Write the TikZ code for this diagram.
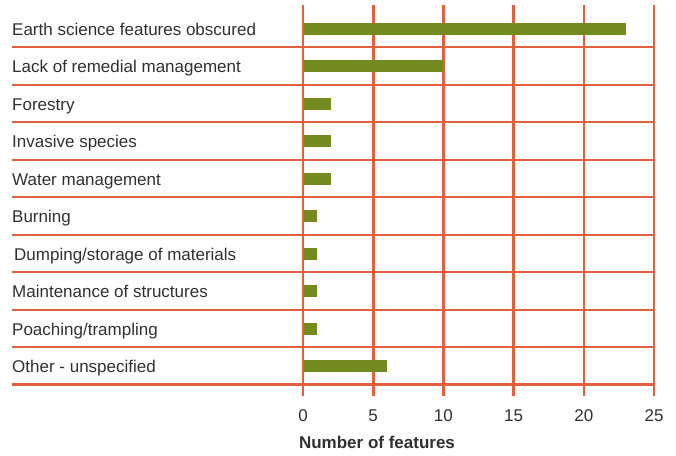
\documentclass[tikz,border=0pt]{standalone}
\usepackage{fontspec}
\setmainfont{Liberation Sans}
\definecolor{gridc}{HTML}{E0603F}
\definecolor{barc}{HTML}{738A21}
\definecolor{txtc}{HTML}{303030}
\begin{document}
\begin{tikzpicture}[x=1bp,y=-1bp,
  hline/.style={draw=gridc,line width=2bp},
  vline/.style={draw=gridc,line width=2.6bp},
  bar/.style={fill=barc,draw=none},
  catlabel/.style={anchor=base west,inner sep=0pt,text=txtc,font=\fontsize{17bp}{20bp}\selectfont},
  ticklabel/.style={anchor=base,inner sep=0pt,text=txtc,font=\fontsize{17bp}{20bp}\selectfont},
  axtitle/.style={anchor=base,inner sep=0pt,text=txtc,font=\fontsize{17bp}{20bp}\selectfont\bfseries}]
\useasboundingbox (0,0) rectangle (676,456);
% horizontal row lines
\foreach \y in {47,85,122,160,197,235,272,310,347}{
  \draw[hline] (12,\y) -- (654,\y);
}
\draw[draw=gridc,line width=3bp] (12,384.5) -- (654,384.5);
% vertical grid lines
\foreach \i in {0,...,5}{
  \draw[vline] ({303+\i*70.2},5.3) -- ({303+\i*70.2},395.5);
}
% bars
\foreach \v [count=\k] in {23,10,2,2,2,1,1,1,1,6}{
  \fill[bar] (304.3,{47.5+(\k-1)*37.5-18.75-5.85}) rectangle ({303+\v*14.04},{47.5+(\k-1)*37.5-18.75+5.85});
}
% category labels
\node[catlabel] (c1) at (12,35.3) {Earth science features obscured};
\node[catlabel] (c2) at (12,72.8) {Lack of remedial management};
\node[catlabel] (c3) at (12,110.3) {Forestry};
\node[catlabel] (c4) at (12,147.8) {Invasive species};
\node[catlabel] (c5) at (12,185.3) {Water management};
\node[catlabel] (c6) at (12,222.8) {Burning};
\node[catlabel] (c7) at (14,260.3) {Dumping/storage of materials};
\node[catlabel] (c8) at (12,297.8) {Maintenance of structures};
\node[catlabel] (c9) at (12,335.3) {Poaching/trampling};
\node[catlabel] (c10) at (12,372.8) {Other - unspecified};
% tick labels
\foreach \t [count=\i from 0] in {0,5,10,15,20,25}{
  \node[ticklabel] (t\i) at ({303+\i*70.2},421.7) {\t};
}
\node[axtitle] (title) at (377,448.7) {Number of features};
\end{tikzpicture}
\end{document}
